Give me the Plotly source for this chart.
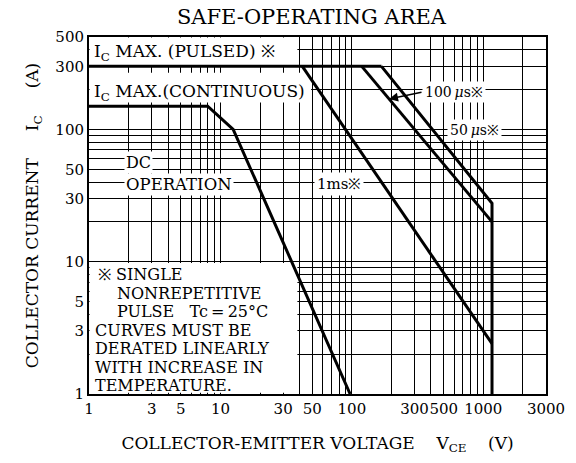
import plotly.graph_objects as go

# ---- data ----
dc_v = [1, 8, 12.5, 97]
dc_i = [150, 150, 100, 1]
pulsed_v = [1, 168]
pulsed_i = [300, 300]
ms1_v = [42, 1165]
ms1_i = [300, 2.4]
us100_v = [119, 1165]
us100_i = [300, 20]
us50_v = [168, 1165, 1165]
us50_i = [300, 27.7, 1]

x_major = [1, 3, 5, 10, 30, 50, 100, 300, 500, 1000, 3000]
x_major_text = ["1", "3", "5", "10", "30", "50", "100", "300", "500", "1000", "3000"]
x_minor = [2, 4, 6, 7, 8, 9, 20, 40, 60, 70, 80, 90, 200, 400, 600, 700, 800, 900, 2000]
y_major = [1, 3, 5, 10, 30, 50, 100, 300, 500]
y_major_text = ["1", "3", "5", "10", "30", "50", "100", "300", "500"]
y_minor = [2, 4, 6, 7, 8, 9, 20, 40, 60, 70, 80, 90, 200, 400]

note_lines = ["※ SINGLE", "NONREPETITIVE", "PULSE\u00a0\u00a0\u00a0Tc\u2009=\u200925°C",
              "CURVES MUST BE", "DERATED LINEARLY", "WITH INCREASE IN", "TEMPERATURE."]
note_indent = [False, True, True, False, False, False, False]

FONT = "DejaVu Serif"
L, R, T, B = 89, 546, 37, 394
W, H = 576, 463


def px(x):
    return (x - L) / (R - L)


def py(y):
    return (B - y) / (B - T)


fig = go.Figure()
line = dict(color="black", width=3)
for xs, ys, name in [(pulsed_v, pulsed_i, "Ic max pulsed"), (dc_v, dc_i, "DC"),
                     (ms1_v, ms1_i, "1ms"), (us100_v, us100_i, "100us"),
                     (us50_v, us50_i, "50us")]:
    fig.add_trace(go.Scatter(x=xs, y=ys, mode="lines", line=line, name=name,
                             showlegend=False, hoverinfo="skip"))

# white panels hiding the grid behind text blocks (data coords on log axes)
for x0, x1, y0, y1 in [(1.01, 38.5, 306, 495),     # pulsed label
                       (1.01, 49, 160, 268),       # continuous label
                       (1.01, 38.5, 1.02, 9.8)]:   # note block
    fig.add_shape(type="rect", xref="x", yref="y", x0=x0, x1=x1, y0=y0, y1=y1,
                  fillcolor="white", line_width=0, layer="between")


def f(s):
    return dict(family=FONT, size=s, color="black")


fig.add_annotation(xref="paper", yref="paper", x=px(92), y=py(53), xanchor="left",
                   yanchor="middle", text="I<sub>C</sub> MAX. (PULSED) ※",
                   showarrow=False, font=f(17))
fig.add_annotation(xref="paper", yref="paper", x=px(92), y=py(92), xanchor="left",
                   yanchor="middle", text="I<sub>C</sub> MAX.(CONTINUOUS)",
                   showarrow=False, font=f(17))
fig.add_annotation(xref="paper", yref="paper", x=px(124), y=py(162), xanchor="left",
                   yanchor="middle", text="DC",
                   showarrow=False, font=f(16), bgcolor="white", borderpad=1)
fig.add_annotation(xref="paper", yref="paper", x=px(124), y=py(184), xanchor="left",
                   yanchor="middle", text="OPERATION",
                   showarrow=False, font=f(16.5), bgcolor="white", borderpad=1)
fig.add_annotation(xref="paper", yref="paper", x=px(314), y=py(184), xanchor="left",
                   yanchor="middle", text="1ms※",
                   showarrow=False, font=f(15), bgcolor="white", borderpad=2)
fig.add_annotation(xref="paper", yref="paper", x=px(447), y=py(130), xanchor="left",
                   yanchor="middle", text="50\u2009<i>μ</i>s※",
                   showarrow=False, font=f(14), bgcolor="white", borderpad=2)
fig.add_annotation(xref="paper", yref="paper", x=px(422), y=py(92), xanchor="left",
                   yanchor="middle", text="100\u2009<i>μ</i>s※",
                   showarrow=False, font=f(14), bgcolor="white", borderpad=2)
fig.add_annotation(xref="paper", yref="paper", x=px(389), y=py(99),
                   ax=34, ay=-7, text="", showarrow=True, arrowhead=2,
                   arrowsize=1.2, arrowwidth=1.5, arrowcolor="black")

for k, (txt, ind) in enumerate(zip(note_lines, note_indent)):
    fig.add_annotation(xref="paper", yref="paper",
                       x=px(116 if ind else (97 if k == 0 else 94)),
                       y=py(274.5 + 18.5 * k), xanchor="left", yanchor="middle",
                       text=txt, showarrow=False, font=f(16), borderpad=0)

axis_common = dict(type="log", showgrid=True, gridcolor="black", gridwidth=0.8,
                   showline=True, linecolor="black", linewidth=2, mirror=True,
                   ticks="", zeroline=False, tickfont=f(15), tickmode="array",
                   tickangle=0)

fig.update_xaxes(**axis_common, range=[0, 3.4771],
                 tickvals=x_major, ticktext=x_major_text,
                 minor=dict(tickmode="array", tickvals=x_minor, showgrid=True,
                            gridcolor="black", gridwidth=0.8, ticks=""),
                 title=dict(text="COLLECTOR-EMITTER VOLTAGE\u00a0\u00a0\u00a0\u00a0V<sub>CE</sub>\u00a0\u00a0\u00a0\u00a0(V)",
                            font=f(17), standoff=20))
fig.update_yaxes(**axis_common, range=[0, 2.699],
                 tickvals=y_major, ticktext=y_major_text,
                 minor=dict(tickmode="array", tickvals=y_minor, showgrid=True,
                            gridcolor="black", gridwidth=0.8, ticks=""),
                 title=dict(text="COLLECTOR CURRENT\u00a0\u00a0\u00a0\u00a0\u00a0I<sub>C</sub>\u00a0\u00a0\u00a0\u00a0\u00a0(A)",
                            font=f(17), standoff=12))

fig.update_layout(
    width=W, height=H,
    margin=dict(l=L, r=W - R, t=T, b=H - B),
    paper_bgcolor="white", plot_bgcolor="white",
    title=dict(text="SAFE-OPERATING AREA", x=311.5 / W, xanchor="center",
               y=1 - 17 / H, yanchor="middle", font=f(21)),
    showlegend=False,
)

fig.write_html("out.html", post_script="document.body.style.margin='0';",
               config={"displayModeBar": False})
